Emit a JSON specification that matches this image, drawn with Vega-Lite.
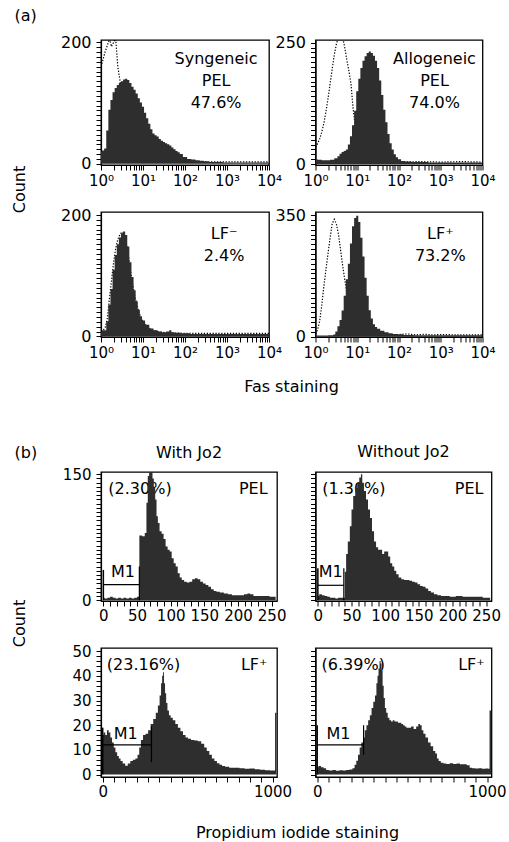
{
"$schema": "https://vega.github.io/schema/vega-lite/v6.json",
"padding": {"left": 10, "top": 6, "right": 5, "bottom": 2},
"background": "white",
"config": {
  "font": "DejaVu Sans",
  "view": {"stroke": "black", "strokeWidth": 1.3},
  "axis": {"grid": false, "domainColor": "black", "domainWidth": 1.2, "tickColor": "black", "tickWidth": 1, "tickSize": 5, "labelColor": "black", "titleColor": "black", "labelFont": "DejaVu Sans", "titleFont": "DejaVu Sans", "labelFontSize": 15, "titleFontSize": 16, "titleFontWeight": "normal", "labelOverlap": false, "labelFlush": false, "labelBound": false},
  "axisX": {"labelPadding": 2},
  "axisY": {"labelPadding": 5},
  "text": {"fontSize": 16, "color": "black"},
  "title": {"font": "DejaVu Sans", "fontSize": 16, "fontWeight": "normal", "color": "black"}
},
"datasets": {
  "notes": [
    {"id": "a1", "t": ["Syngeneic", "PEL", "47.6%"]},
    {"id": "a2", "t": ["Allogeneic", "PEL", "74.0%"]},
    {"id": "a3", "t": ["LF⁻", "2.4%"]},
    {"id": "a4", "t": ["LF⁺", "73.2%"]},
    {"id": "b1p", "t": "(2.30%)"}, {"id": "b1n", "t": "PEL"},
    {"id": "b2p", "t": "(1.30%)"}, {"id": "b2n", "t": "PEL"},
    {"id": "b3p", "t": "(23.16%)"}, {"id": "b3n", "t": "LF⁺"},
    {"id": "b4p", "t": "(6.39%)"}, {"id": "b4n", "t": "LF⁺"},
    {"id": "m", "t": "M1"}
  ],
  "a1": [
    {"s":"f","x":1,"y":20},{"s":"f","x":1.122,"y":22},{"s":"f","x":1.259,"y":25},{"s":"f","x":1.413,"y":55},{"s":"f","x":1.585,"y":89},{"s":"f","x":1.778,"y":105},{"s":"f","x":1.995,"y":118},{"s":"f","x":2.239,"y":125},{"s":"f","x":2.512,"y":130},{"s":"f","x":2.818,"y":133},{"s":"f","x":3.162,"y":136},{"s":"f","x":3.548,"y":139},{"s":"f","x":3.981,"y":140},{"s":"f","x":4.467,"y":138},{"s":"f","x":5.012,"y":133},{"s":"f","x":5.623,"y":127},{"s":"f","x":6.31,"y":122},{"s":"f","x":7.079,"y":116},{"s":"f","x":7.943,"y":108},{"s":"f","x":8.913,"y":101},{"s":"f","x":10,"y":94},{"s":"f","x":11.22,"y":84},{"s":"f","x":12.59,"y":75},{"s":"f","x":14.13,"y":66},{"s":"f","x":15.85,"y":57},{"s":"f","x":17.78,"y":50},{"s":"f","x":19.95,"y":47},{"s":"f","x":22.39,"y":45},{"s":"f","x":25.12,"y":41},{"s":"f","x":28.18,"y":38},{"s":"f","x":31.62,"y":36},{"s":"f","x":35.48,"y":34},{"s":"f","x":39.81,"y":32},{"s":"f","x":44.67,"y":30},{"s":"f","x":50.12,"y":27},{"s":"f","x":56.23,"y":24},{"s":"f","x":63.1,"y":21},{"s":"f","x":70.79,"y":19},{"s":"f","x":79.43,"y":16},{"s":"f","x":100,"y":11},{"s":"f","x":125.9,"y":8},{"s":"f","x":158.5,"y":7},{"s":"f","x":199.5,"y":6},{"s":"f","x":251.2,"y":5},{"s":"f","x":316.2,"y":4},{"s":"f","x":398.1,"y":3},{"s":"f","x":631,"y":3},{"s":"f","x":1000,"y":2},{"s":"f","x":1585,"y":2},{"s":"f","x":2512,"y":2},{"s":"f","x":3981,"y":2},{"s":"f","x":6310,"y":2},{"s":"f","x":10000,"y":2},
    {"s":"c","x":1,"y":160},{"s":"c","x":1.122,"y":172},{"s":"c","x":1.259,"y":185},{"s":"c","x":1.413,"y":195},{"s":"c","x":1.585,"y":206},{"s":"c","x":1.778,"y":193},{"s":"c","x":1.995,"y":200},{"s":"c","x":2.239,"y":206},{"s":"c","x":2.512,"y":160},{"s":"c","x":2.818,"y":138},{"s":"c","x":3.162,"y":112},{"s":"c","x":3.548,"y":88},{"s":"c","x":3.981,"y":68},{"s":"c","x":5.012,"y":44},{"s":"c","x":6.31,"y":29},{"s":"c","x":7.943,"y":19},{"s":"c","x":10,"y":13},{"s":"c","x":15.85,"y":7},{"s":"c","x":25.12,"y":5},{"s":"c","x":39.81,"y":4},{"s":"c","x":100,"y":3},{"s":"c","x":316.2,"y":3},{"s":"c","x":1000,"y":3},{"s":"c","x":3162,"y":3},{"s":"c","x":10000,"y":3}
  ],
  "a2": [
    {"s":"f","x":1,"y":10},{"s":"f","x":1.259,"y":9},{"s":"f","x":1.585,"y":8},{"s":"f","x":1.995,"y":8},{"s":"f","x":2.512,"y":9},{"s":"f","x":3.162,"y":12},{"s":"f","x":3.548,"y":16},{"s":"f","x":3.981,"y":21},{"s":"f","x":4.467,"y":25},{"s":"f","x":5.012,"y":27},{"s":"f","x":5.623,"y":30},{"s":"f","x":6.31,"y":40},{"s":"f","x":7.079,"y":57},{"s":"f","x":7.943,"y":80},{"s":"f","x":8.913,"y":110},{"s":"f","x":10,"y":150},{"s":"f","x":11.22,"y":176},{"s":"f","x":12.59,"y":198},{"s":"f","x":14.13,"y":213},{"s":"f","x":15.85,"y":222},{"s":"f","x":17.78,"y":229},{"s":"f","x":19.95,"y":232},{"s":"f","x":22.39,"y":229},{"s":"f","x":25.12,"y":223},{"s":"f","x":28.18,"y":213},{"s":"f","x":31.62,"y":198},{"s":"f","x":35.48,"y":172},{"s":"f","x":39.81,"y":142},{"s":"f","x":44.67,"y":112},{"s":"f","x":50.12,"y":86},{"s":"f","x":56.23,"y":62},{"s":"f","x":63.1,"y":43},{"s":"f","x":70.79,"y":30},{"s":"f","x":79.43,"y":20},{"s":"f","x":89.13,"y":14},{"s":"f","x":100,"y":10},{"s":"f","x":125.9,"y":6},{"s":"f","x":158.5,"y":5},{"s":"f","x":251.2,"y":4},{"s":"f","x":398.1,"y":4},{"s":"f","x":631,"y":3},{"s":"f","x":1000,"y":3},{"s":"f","x":3162,"y":3},{"s":"f","x":10000,"y":3},
    {"s":"c","x":1,"y":35},{"s":"c","x":1.122,"y":42},{"s":"c","x":1.259,"y":52},{"s":"c","x":1.413,"y":66},{"s":"c","x":1.585,"y":84},{"s":"c","x":1.778,"y":108},{"s":"c","x":1.995,"y":135},{"s":"c","x":2.239,"y":166},{"s":"c","x":2.512,"y":196},{"s":"c","x":2.818,"y":225},{"s":"c","x":3.162,"y":247},{"s":"c","x":3.548,"y":262},{"s":"c","x":3.981,"y":268},{"s":"c","x":4.467,"y":262},{"s":"c","x":5.012,"y":240},{"s":"c","x":5.623,"y":215},{"s":"c","x":6.31,"y":192},{"s":"c","x":7.079,"y":165},{"s":"c","x":7.943,"y":115},{"s":"c","x":8.913,"y":80},{"s":"c","x":10,"y":55},{"s":"c","x":12.59,"y":30},{"s":"c","x":15.85,"y":18},{"s":"c","x":19.95,"y":12},{"s":"c","x":31.62,"y":7},{"s":"c","x":50.12,"y":5},{"s":"c","x":100,"y":4},{"s":"c","x":316.2,"y":5},{"s":"c","x":1000,"y":4},{"s":"c","x":3162,"y":5},{"s":"c","x":10000,"y":4}
  ],
  "a3": [
    {"s":"f","x":1,"y":8},{"s":"f","x":1.122,"y":10},{"s":"f","x":1.259,"y":10},{"s":"f","x":1.413,"y":25},{"s":"f","x":1.585,"y":52},{"s":"f","x":1.778,"y":78},{"s":"f","x":1.995,"y":110},{"s":"f","x":2.239,"y":134},{"s":"f","x":2.512,"y":152},{"s":"f","x":2.818,"y":163},{"s":"f","x":3.162,"y":170},{"s":"f","x":3.548,"y":173},{"s":"f","x":3.981,"y":167},{"s":"f","x":4.467,"y":148},{"s":"f","x":5.012,"y":122},{"s":"f","x":5.623,"y":98},{"s":"f","x":6.31,"y":76},{"s":"f","x":7.079,"y":58},{"s":"f","x":7.943,"y":44},{"s":"f","x":8.913,"y":33},{"s":"f","x":10,"y":26},{"s":"f","x":12.59,"y":19},{"s":"f","x":15.85,"y":13},{"s":"f","x":19.95,"y":10},{"s":"f","x":25.12,"y":8},{"s":"f","x":31.62,"y":7},{"s":"f","x":39.81,"y":8},{"s":"f","x":44.67,"y":10},{"s":"f","x":50.12,"y":7},{"s":"f","x":63.1,"y":6},{"s":"f","x":100,"y":5},{"s":"f","x":158.5,"y":4},{"s":"f","x":316.2,"y":4},{"s":"f","x":1000,"y":4},{"s":"f","x":3162,"y":4},{"s":"f","x":10000,"y":4},
    {"s":"c","x":1,"y":8},{"s":"c","x":1.122,"y":10},{"s":"c","x":1.259,"y":14},{"s":"c","x":1.413,"y":30},{"s":"c","x":1.585,"y":62},{"s":"c","x":1.778,"y":92},{"s":"c","x":1.995,"y":122},{"s":"c","x":2.239,"y":145},{"s":"c","x":2.512,"y":160},{"s":"c","x":2.818,"y":168},{"s":"c","x":3.162,"y":172},{"s":"c","x":3.548,"y":168},{"s":"c","x":3.981,"y":155},{"s":"c","x":4.467,"y":135},{"s":"c","x":5.012,"y":110},{"s":"c","x":5.623,"y":88},{"s":"c","x":6.31,"y":68},{"s":"c","x":7.943,"y":40},{"s":"c","x":10,"y":24},{"s":"c","x":12.59,"y":16},{"s":"c","x":15.85,"y":11},{"s":"c","x":25.12,"y":7},{"s":"c","x":39.81,"y":6},{"s":"c","x":100,"y":5},{"s":"c","x":316.2,"y":5},{"s":"c","x":1000,"y":5},{"s":"c","x":3162,"y":5},{"s":"c","x":10000,"y":5}
  ],
  "a4": [
    {"s":"f","x":1,"y":3},{"s":"f","x":1.585,"y":3},{"s":"f","x":2.512,"y":4},{"s":"f","x":2.818,"y":6},{"s":"f","x":3.162,"y":15},{"s":"f","x":3.548,"y":30},{"s":"f","x":3.981,"y":48},{"s":"f","x":4.467,"y":75},{"s":"f","x":5.012,"y":118},{"s":"f","x":5.623,"y":165},{"s":"f","x":6.31,"y":210},{"s":"f","x":7.079,"y":268},{"s":"f","x":7.943,"y":318},{"s":"f","x":8.913,"y":342},{"s":"f","x":10,"y":348},{"s":"f","x":11.22,"y":330},{"s":"f","x":12.59,"y":285},{"s":"f","x":14.13,"y":231},{"s":"f","x":15.85,"y":170},{"s":"f","x":17.78,"y":118},{"s":"f","x":19.95,"y":76},{"s":"f","x":22.39,"y":52},{"s":"f","x":25.12,"y":36},{"s":"f","x":28.18,"y":28},{"s":"f","x":31.62,"y":23},{"s":"f","x":39.81,"y":17},{"s":"f","x":50.12,"y":13},{"s":"f","x":63.1,"y":10},{"s":"f","x":79.43,"y":8},{"s":"f","x":100,"y":7},{"s":"f","x":158.5,"y":5},{"s":"f","x":316.2,"y":4},{"s":"f","x":1000,"y":4},{"s":"f","x":3162,"y":4},{"s":"f","x":10000,"y":4},
    {"s":"c","x":1,"y":8},{"s":"c","x":1.122,"y":20},{"s":"c","x":1.259,"y":45},{"s":"c","x":1.413,"y":90},{"s":"c","x":1.585,"y":145},{"s":"c","x":1.778,"y":193},{"s":"c","x":1.995,"y":240},{"s":"c","x":2.239,"y":285},{"s":"c","x":2.512,"y":325},{"s":"c","x":2.818,"y":338},{"s":"c","x":3.162,"y":325},{"s":"c","x":3.548,"y":295},{"s":"c","x":3.981,"y":250},{"s":"c","x":4.467,"y":205},{"s":"c","x":5.012,"y":165},{"s":"c","x":5.623,"y":126},{"s":"c","x":6.31,"y":90},{"s":"c","x":7.079,"y":60},{"s":"c","x":7.943,"y":40},{"s":"c","x":10,"y":22},{"s":"c","x":15.85,"y":12},{"s":"c","x":25.12,"y":8},{"s":"c","x":39.81,"y":6},{"s":"c","x":100,"y":6},{"s":"c","x":158.5,"y":8},{"s":"c","x":251.2,"y":5},{"s":"c","x":398.1,"y":7},{"s":"c","x":631,"y":5},{"s":"c","x":1000,"y":6},{"s":"c","x":3162,"y":5},{"s":"c","x":10000,"y":5}
  ],
  "b1": [
    {"x":0,"y":3},{"x":4,"y":2},{"x":8,"y":3},{"x":12,"y":4},{"x":16,"y":3},{"x":20,"y":2},{"x":24,"y":3},{"x":28,"y":2},{"x":32,"y":3},{"x":36,"y":2},{"x":40,"y":3},{"x":44,"y":2},{"x":48,"y":3},{"x":52,"y":4},{"x":55,"y":77},{"x":60,"y":76},{"x":63,"y":80},{"x":65,"y":116},{"x":67,"y":148},{"x":69,"y":160},{"x":72,"y":160},{"x":74,"y":145},{"x":76,"y":134},{"x":78,"y":120},{"x":80,"y":100},{"x":82,"y":92},{"x":85,"y":82},{"x":88,"y":79},{"x":91,"y":73},{"x":94,"y":64},{"x":97,"y":60},{"x":100,"y":58},{"x":103,"y":50},{"x":106,"y":44},{"x":109,"y":40},{"x":112,"y":32},{"x":115,"y":27},{"x":118,"y":24},{"x":122,"y":22},{"x":126,"y":21},{"x":130,"y":22},{"x":134,"y":25},{"x":138,"y":26},{"x":142,"y":25},{"x":146,"y":22},{"x":150,"y":20},{"x":154,"y":18},{"x":158,"y":16},{"x":162,"y":13},{"x":166,"y":11},{"x":170,"y":10},{"x":176,"y":9},{"x":182,"y":8},{"x":188,"y":7},{"x":194,"y":6},{"x":200,"y":6},{"x":206,"y":6},{"x":212,"y":7},{"x":216,"y":8},{"x":220,"y":7},{"x":226,"y":5},{"x":232,"y":5},{"x":238,"y":5},{"x":244,"y":5},{"x":250,"y":4},{"x":256,"y":4}
  ],
  "b2": [
    {"x":0,"y":5},{"x":4,"y":7},{"x":8,"y":6},{"x":12,"y":5},{"x":16,"y":4},{"x":20,"y":3},{"x":24,"y":3},{"x":28,"y":2},{"x":32,"y":3},{"x":36,"y":3},{"x":39,"y":3},{"x":41,"y":34},{"x":43,"y":55},{"x":46,"y":70},{"x":49,"y":88},{"x":51,"y":108},{"x":54,"y":124},{"x":57,"y":134},{"x":60,"y":140},{"x":63,"y":146},{"x":65,"y":150},{"x":67,"y":140},{"x":70,"y":130},{"x":73,"y":120},{"x":76,"y":108},{"x":79,"y":98},{"x":82,"y":82},{"x":85,"y":70},{"x":88,"y":63},{"x":91,"y":60},{"x":94,"y":60},{"x":97,"y":55},{"x":100,"y":58},{"x":103,"y":58},{"x":106,"y":52},{"x":109,"y":44},{"x":112,"y":40},{"x":115,"y":35},{"x":118,"y":31},{"x":122,"y":27},{"x":126,"y":25},{"x":130,"y":24},{"x":134,"y":24},{"x":138,"y":23},{"x":142,"y":22},{"x":146,"y":21},{"x":150,"y":19},{"x":154,"y":17},{"x":158,"y":16},{"x":162,"y":14},{"x":166,"y":11},{"x":170,"y":9},{"x":175,"y":7},{"x":180,"y":6},{"x":186,"y":5},{"x":192,"y":5},{"x":200,"y":4},{"x":210,"y":5},{"x":220,"y":4},{"x":230,"y":4},{"x":240,"y":4},{"x":250,"y":3},{"x":256,"y":3}
  ],
  "b3": [
    {"x":0,"y":16},{"x":10,"y":17},{"x":20,"y":16},{"x":30,"y":18},{"x":40,"y":17},{"x":50,"y":15},{"x":60,"y":13},{"x":70,"y":11},{"x":80,"y":9},{"x":90,"y":7.5},{"x":100,"y":6.5},{"x":110,"y":5.5},{"x":125,"y":4.5},{"x":140,"y":3.6},{"x":155,"y":4.5},{"x":170,"y":5.5},{"x":185,"y":6},{"x":200,"y":6.5},{"x":210,"y":8},{"x":220,"y":11},{"x":230,"y":14},{"x":245,"y":16},{"x":260,"y":16.5},{"x":275,"y":18},{"x":290,"y":20.5},{"x":305,"y":22.5},{"x":320,"y":25},{"x":330,"y":28},{"x":340,"y":32},{"x":347,"y":37},{"x":353,"y":40},{"x":358,"y":41.5},{"x":364,"y":37},{"x":370,"y":33},{"x":377,"y":29},{"x":385,"y":26},{"x":395,"y":24},{"x":405,"y":23},{"x":420,"y":22},{"x":435,"y":20.5},{"x":450,"y":19},{"x":465,"y":17.5},{"x":480,"y":16},{"x":495,"y":15},{"x":510,"y":14.5},{"x":530,"y":14},{"x":550,"y":13.8},{"x":570,"y":13.5},{"x":590,"y":12.5},{"x":605,"y":11},{"x":620,"y":9.5},{"x":635,"y":8},{"x":650,"y":6.5},{"x":665,"y":5.5},{"x":680,"y":4.6},{"x":695,"y":4},{"x":710,"y":3.5},{"x":730,"y":3.2},{"x":760,"y":2.8},{"x":790,"y":2.7},{"x":820,"y":2.5},{"x":850,"y":2.3},{"x":880,"y":2.4},{"x":910,"y":2.1},{"x":940,"y":1.9},{"x":970,"y":1.7},{"x":1000,"y":1.6},{"x":1012,"y":1.6},{"x":1017,"y":25},{"x":1023,"y":25}
  ],
  "b4": [
    {"x":0,"y":3},{"x":15,"y":3.5},{"x":30,"y":3},{"x":45,"y":2.5},{"x":60,"y":1.8},{"x":80,"y":1.6},{"x":100,"y":1.8},{"x":120,"y":1.5},{"x":140,"y":1.7},{"x":160,"y":1.6},{"x":180,"y":1.8},{"x":200,"y":2},{"x":215,"y":2.5},{"x":225,"y":4},{"x":235,"y":5.6},{"x":245,"y":8},{"x":255,"y":11},{"x":265,"y":13},{"x":275,"y":15},{"x":285,"y":18},{"x":295,"y":20},{"x":305,"y":22},{"x":315,"y":24},{"x":325,"y":27},{"x":335,"y":29.5},{"x":345,"y":32},{"x":352,"y":37},{"x":358,"y":40},{"x":364,"y":43},{"x":370,"y":46},{"x":376,"y":45},{"x":382,"y":42},{"x":388,"y":36},{"x":395,"y":31},{"x":402,"y":27},{"x":410,"y":25},{"x":420,"y":23},{"x":430,"y":22},{"x":440,"y":21.5},{"x":450,"y":22},{"x":460,"y":21.5},{"x":470,"y":21.5},{"x":480,"y":21},{"x":490,"y":21},{"x":500,"y":20.5},{"x":510,"y":20},{"x":520,"y":19.5},{"x":530,"y":19},{"x":545,"y":19},{"x":560,"y":19.5},{"x":575,"y":18.5},{"x":590,"y":19.5},{"x":600,"y":20.5},{"x":610,"y":20},{"x":620,"y":18},{"x":630,"y":16.5},{"x":645,"y":15},{"x":660,"y":13},{"x":675,"y":11.5},{"x":690,"y":9.5},{"x":700,"y":8.5},{"x":710,"y":6.5},{"x":720,"y":5.5},{"x":735,"y":4.8},{"x":750,"y":4.5},{"x":770,"y":4.3},{"x":790,"y":4.6},{"x":810,"y":4.3},{"x":830,"y":4.5},{"x":850,"y":4.2},{"x":870,"y":4.2},{"x":890,"y":3.8},{"x":905,"y":2.8},{"x":920,"y":2.5},{"x":940,"y":2.4},{"x":960,"y":2.5},{"x":980,"y":2.3},{"x":1000,"y":2.4},{"x":1012,"y":2.3},{"x":1017,"y":26},{"x":1023,"y":26}
  ]
},
"columns": 2,
"bounds": "flush",
"align": "each",
"spacing": {"row": 47, "column": 38.5},
"concat": [
  {
    "width": 168, "height": 125,
    "resolve": {"axis": {"x": "independent", "y": "independent"}},
    "layer": [
      {"data": {"name": "a1"}, "transform": [{"filter": "datum.s == 'c'"}], "mark": {"type": "line", "clip": true, "color": "black", "strokeDash": [1.3, 1.6], "strokeWidth": 1.2},
       "encoding": {
        "x": {"field": "x", "type": "quantitative", "scale": {"type": "log", "domain": [1, 10000]},
          "axis": {"values": [1,2,3,4,5,6,7,8,9,10,20,30,40,50,60,70,80,90,100,200,300,400,500,600,700,800,900,1000,2000,3000,4000,5000,6000,7000,8000,9000,10000],
            "labelExpr": "datum.value == 1 ? '10⁰' : datum.value == 10 ? '10¹' : datum.value == 100 ? '10²' : datum.value == 1000 ? '10³' : datum.value == 10000 ? '10⁴' : ''",
            "labelFontSize": 15, "labelPadding": 3,
            "title": "(a)", "titleX": -87, "titleY": -149.5, "titleAngle": 0, "titleAlign": "left", "titleBaseline": "middle"}},
        "y": {"field": "y", "type": "quantitative", "scale": {"domain": [-2, 204], "nice": false, "zero": false},
          "axis": {"values": [0,8,16,24,32,40,48,56,64,72,80,88,96,104,112,120,128,136,144,152,160,168,176,184,192,200],
            "labelExpr": "datum.value == 0 || datum.value == 200 ? datum.label : ''", "labelFontSize": 16,
            "title": "Count", "titleX": -82, "titleY": 149, "titleAngle": -90, "titleAlign": "center", "titleBaseline": "middle"}}
       }},
      {"data": {"name": "a1"}, "transform": [{"filter": "datum.s == 'f'"}], "mark": {"type": "area", "clip": true, "color": "#2e2e2e", "interpolate": "step"},
       "encoding": {"x": {"field": "x", "type": "quantitative", "axis": null}, "y": {"field": "y", "type": "quantitative", "axis": null}}},
      {"data": {"name": "notes"}, "transform": [{"filter": "datum.id == 'a1'"}], "mark": {"type": "text", "lineHeight": 22, "align": "center", "baseline": "middle"},
       "encoding": {"x": {"datum": 550, "axis": null}, "y": {"datum": 172.7, "axis": null}, "text": {"field": "t"}}}
    ]
  },
  {
    "width": 167, "height": 125,
    "resolve": {"axis": {"x": "independent", "y": "independent"}},
    "layer": [
      {"data": {"name": "a2"}, "transform": [{"filter": "datum.s == 'c'"}], "mark": {"type": "line", "clip": true, "color": "black", "strokeDash": [1.3, 1.6], "strokeWidth": 1.2},
       "encoding": {
        "x": {"field": "x", "type": "quantitative", "scale": {"type": "log", "domain": [1, 10000]},
          "axis": {"values": [1,2,3,4,5,6,7,8,9,10,20,30,40,50,60,70,80,90,100,200,300,400,500,600,700,800,900,1000,2000,3000,4000,5000,6000,7000,8000,9000,10000],
            "labelExpr": "datum.value == 1 ? '10⁰' : datum.value == 10 ? '10¹' : datum.value == 100 ? '10²' : datum.value == 1000 ? '10³' : datum.value == 10000 ? '10⁴' : ''",
            "labelFontSize": 15, "labelPadding": 3, "title": null}},
        "y": {"field": "y", "type": "quantitative", "scale": {"domain": [-2, 255.6], "nice": false, "zero": false},
          "axis": {"values": [0,10,20,30,40,50,60,70,80,90,100,110,120,130,140,150,160,170,180,190,200,210,220,230,240,250],
            "labelExpr": "datum.value == 0 || datum.value == 250 ? datum.label : ''", "labelFontSize": 16, "title": null}}
       }},
      {"data": {"name": "a2"}, "transform": [{"filter": "datum.s == 'f'"}], "mark": {"type": "area", "clip": true, "color": "#2e2e2e", "interpolate": "step"},
       "encoding": {"x": {"field": "x", "type": "quantitative", "axis": null}, "y": {"field": "y", "type": "quantitative", "axis": null}}},
      {"data": {"name": "notes"}, "transform": [{"filter": "datum.id == 'a2'"}], "mark": {"type": "text", "lineHeight": 22, "align": "center", "baseline": "middle"},
       "encoding": {"x": {"datum": 708, "axis": null}, "y": {"datum": 216.4, "axis": null}, "text": {"field": "t"}}}
    ]
  },
  {
    "width": 168, "height": 125,
    "resolve": {"axis": {"x": "independent", "y": "independent"}},
    "layer": [
      {"data": {"name": "a3"}, "transform": [{"filter": "datum.s == 'c'"}], "mark": {"type": "line", "clip": true, "color": "black", "strokeDash": [1.3, 1.6], "strokeWidth": 1.2},
       "encoding": {
        "x": {"field": "x", "type": "quantitative", "scale": {"type": "log", "domain": [1, 10000]},
          "axis": {"values": [1,2,3,4,5,6,7,8,9,10,20,30,40,50,60,70,80,90,100,200,300,400,500,600,700,800,900,1000,2000,3000,4000,5000,6000,7000,8000,9000,10000],
            "labelExpr": "datum.value == 1 ? '10⁰' : datum.value == 10 ? '10¹' : datum.value == 100 ? '10²' : datum.value == 1000 ? '10³' : datum.value == 10000 ? '10⁴' : ''",
            "labelFontSize": 15, "labelPadding": 3,
            "title": "Fas staining", "titleX": 190, "titleY": 49, "titleAngle": 0, "titleAlign": "center", "titleBaseline": "middle"}},
        "y": {"field": "y", "type": "quantitative", "scale": {"domain": [-1, 205], "nice": false, "zero": false},
          "axis": {"values": [0,8,16,24,32,40,48,56,64,72,80,88,96,104,112,120,128,136,144,152,160,168,176,184,192,200],
            "labelExpr": "datum.value == 0 || datum.value == 200 ? datum.label : ''", "labelFontSize": 16, "title": null}}
       }},
      {"data": {"name": "a3"}, "transform": [{"filter": "datum.s == 'f'"}], "mark": {"type": "area", "clip": true, "color": "#2e2e2e", "interpolate": "step"},
       "encoding": {"x": {"field": "x", "type": "quantitative", "axis": null}, "y": {"field": "y", "type": "quantitative", "axis": null}}},
      {"data": {"name": "notes"}, "transform": [{"filter": "datum.id == 'a3'"}], "mark": {"type": "text", "lineHeight": 22, "align": "center", "baseline": "middle"},
       "encoding": {"x": {"datum": 851, "axis": null}, "y": {"datum": 168.3, "axis": null}, "text": {"field": "t"}}}
    ]
  },
  {
    "width": 167, "height": 125,
    "resolve": {"axis": {"x": "independent", "y": "independent"}},
    "layer": [
      {"data": {"name": "a4"}, "transform": [{"filter": "datum.s == 'c'"}], "mark": {"type": "line", "clip": true, "color": "black", "strokeDash": [1.3, 1.6], "strokeWidth": 1.2},
       "encoding": {
        "x": {"field": "x", "type": "quantitative", "scale": {"type": "log", "domain": [1, 10000]},
          "axis": {"values": [1,2,3,4,5,6,7,8,9,10,20,30,40,50,60,70,80,90,100,200,300,400,500,600,700,800,900,1000,2000,3000,4000,5000,6000,7000,8000,9000,10000],
            "labelExpr": "datum.value == 1 ? '10⁰' : datum.value == 10 ? '10¹' : datum.value == 100 ? '10²' : datum.value == 1000 ? '10³' : datum.value == 10000 ? '10⁴' : ''",
            "labelFontSize": 15, "labelPadding": 3,
            "title": "(b)", "titleX": -301.5, "titleY": 115.7, "titleAngle": 0, "titleAlign": "left", "titleBaseline": "middle"}},
        "y": {"field": "y", "type": "quantitative", "scale": {"domain": [-1, 359], "nice": false, "zero": false},
          "axis": {"values": [0,14,28,42,56,70,84,98,112,126,140,154,168,182,196,210,224,238,252,266,280,294,308,322,336,350],
            "labelExpr": "datum.value == 0 || datum.value == 350 ? datum.label : ''", "labelFontSize": 16, "title": null}}
       }},
      {"data": {"name": "a4"}, "transform": [{"filter": "datum.s == 'f'"}], "mark": {"type": "area", "clip": true, "color": "#2e2e2e", "interpolate": "step"},
       "encoding": {"x": {"field": "x", "type": "quantitative", "axis": null}, "y": {"field": "y", "type": "quantitative", "axis": null}}},
      {"data": {"name": "notes"}, "transform": [{"filter": "datum.id == 'a4'"}], "mark": {"type": "text", "lineHeight": 22, "align": "center", "baseline": "middle"},
       "encoding": {"x": {"datum": 977, "axis": null}, "y": {"datum": 294.8, "axis": null}, "text": {"field": "t"}}}
    ]
  },
  {"width": 10, "height": 41, "data": {"name": "notes"}, "transform": [{"filter": "false"}], "mark": {"type": "point", "opacity": 0}, "encoding": {}, "view": {"stroke": null}},
  {"width": 10, "height": 41, "data": {"name": "notes"}, "transform": [{"filter": "false"}], "mark": {"type": "point", "opacity": 0}, "encoding": {}, "view": {"stroke": null}},
  {
    "width": 176, "height": 129,
    "title": {"text": "With Jo2", "offset": 6},
    "resolve": {"axis": {"x": "independent", "y": "independent"}},
    "layer": [
      {"data": {"name": "notes"}, "transform": [{"filter": "datum.id == 'b1p'"}], "mark": {"type": "text", "align": "left", "baseline": "middle"},
       "encoding": {"x": {"datum": 7.4, "axis": null}, "y": {"datum": 132, "axis": null}, "text": {"field": "t"}}},
      {"data": {"name": "notes"}, "transform": [{"filter": "datum.id == 'b1n'"}], "mark": {"type": "text", "align": "right", "baseline": "middle"},
       "encoding": {"x": {"datum": 244, "axis": null}, "y": {"datum": 132, "axis": null}, "text": {"field": "t"}}},
      {"data": {"name": "b1"}, "mark": {"type": "area", "clip": true, "color": "#2e2e2e", "interpolate": "step"},
       "encoding": {
        "x": {"field": "x", "type": "quantitative", "scale": {"domain": [-3.5, 258], "nice": false, "zero": false},
          "axis": {"values": [0,10,20,30,40,50,60,70,80,90,100,110,120,130,140,150,160,170,180,190,200,210,220,230,240,250],
            "labelExpr": "datum.value % 50 == 0 ? datum.label : ''", "format": "d", "title": null}},
        "y": {"field": "y", "type": "quantitative", "scale": {"domain": [-1, 152.7], "nice": false, "zero": false},
          "axis": {"values": [0,5,10,15,20,25,30,35,40,45,50,55,60,65,70,75,80,85,90,95,100,105,110,115,120,125,130,135,140,145,150],
            "labelExpr": "datum.value == 0 || datum.value == 150 ? datum.label : ''",
            "title": "Count", "titleX": -82, "titleY": 151, "titleAngle": -90, "titleAlign": "center", "titleBaseline": "middle"}}}},
      {"data": {"name": "notes"}, "transform": [{"filter": "datum.id == 'm'"}], "mark": {"type": "rule", "color": "black", "strokeWidth": 1.2},
       "encoding": {"x": {"datum": 0, "axis": null}, "x2": {"datum": 53.5}, "y": {"datum": 18.5, "axis": null}}},
      {"data": {"name": "notes"}, "transform": [{"filter": "datum.id == 'm'"}], "mark": {"type": "rule", "color": "black", "strokeWidth": 1.5},
       "encoding": {"x": {"datum": 0, "axis": null}, "y": {"datum": 0, "axis": null}, "y2": {"datum": 36}}},
      {"data": {"name": "notes"}, "transform": [{"filter": "datum.id == 'm'"}], "mark": {"type": "rule", "color": "black", "strokeWidth": 1.2},
       "encoding": {"x": {"datum": 53.5, "axis": null}, "y": {"datum": 0, "axis": null}, "y2": {"datum": 40}}},
      {"data": {"name": "notes"}, "transform": [{"filter": "datum.id == 'm'"}], "mark": {"type": "text", "align": "center", "baseline": "middle"},
       "encoding": {"x": {"datum": 29, "axis": null}, "y": {"datum": 34, "axis": null}, "text": {"field": "t"}}}
    ]
  },
  {
    "width": 176, "height": 129,
    "title": {"text": "Without Jo2", "offset": 12},
    "resolve": {"axis": {"x": "independent", "y": "independent"}},
    "layer": [
      {"data": {"name": "notes"}, "transform": [{"filter": "datum.id == 'b2p'"}], "mark": {"type": "text", "align": "left", "baseline": "middle"},
       "encoding": {"x": {"datum": 6.5, "axis": null}, "y": {"datum": 132, "axis": null}, "text": {"field": "t"}}},
      {"data": {"name": "notes"}, "transform": [{"filter": "datum.id == 'b2n'"}], "mark": {"type": "text", "align": "right", "baseline": "middle"},
       "encoding": {"x": {"datum": 246, "axis": null}, "y": {"datum": 132, "axis": null}, "text": {"field": "t"}}},
      {"data": {"name": "b2"}, "mark": {"type": "area", "clip": true, "color": "#2e2e2e", "interpolate": "step"},
       "encoding": {
        "x": {"field": "x", "type": "quantitative", "scale": {"domain": [-3.5, 258], "nice": false, "zero": false},
          "axis": {"values": [0,10,20,30,40,50,60,70,80,90,100,110,120,130,140,150,160,170,180,190,200,210,220,230,240,250],
            "labelExpr": "datum.value % 50 == 0 ? datum.label : ''", "format": "d", "title": null}},
        "y": {"field": "y", "type": "quantitative", "scale": {"domain": [-1, 152.7], "nice": false, "zero": false},
          "axis": {"values": [0,5,10,15,20,25,30,35,40,45,50,55,60,65,70,75,80,85,90,95,100,105,110,115,120,125,130,135,140,145,150],
            "labels": false, "title": null}}}},
      {"data": {"name": "notes"}, "transform": [{"filter": "datum.id == 'm'"}], "mark": {"type": "rule", "color": "black", "strokeWidth": 1.2},
       "encoding": {"x": {"datum": 0, "axis": null}, "x2": {"datum": 38.6}, "y": {"datum": 17.7, "axis": null}}},
      {"data": {"name": "notes"}, "transform": [{"filter": "datum.id == 'm'"}], "mark": {"type": "rule", "color": "black", "strokeWidth": 1.5},
       "encoding": {"x": {"datum": 0, "axis": null}, "y": {"datum": 0, "axis": null}, "y2": {"datum": 38}}},
      {"data": {"name": "notes"}, "transform": [{"filter": "datum.id == 'm'"}], "mark": {"type": "rule", "color": "black", "strokeWidth": 1.2},
       "encoding": {"x": {"datum": 38.6, "axis": null}, "y": {"datum": 0, "axis": null}, "y2": {"datum": 38}}},
      {"data": {"name": "notes"}, "transform": [{"filter": "datum.id == 'm'"}], "mark": {"type": "text", "align": "center", "baseline": "middle"},
       "encoding": {"x": {"datum": 19, "axis": null}, "y": {"datum": 34, "axis": null}, "text": {"field": "t"}}}
    ]
  },
  {
    "width": 176, "height": 129,
    "resolve": {"axis": {"x": "independent", "y": "independent"}},
    "layer": [
      {"data": {"name": "notes"}, "transform": [{"filter": "datum.id == 'b3p'"}], "mark": {"type": "text", "align": "left", "baseline": "middle"},
       "encoding": {"x": {"datum": 24, "axis": null}, "y": {"datum": 44.3, "axis": null}, "text": {"field": "t"}}},
      {"data": {"name": "notes"}, "transform": [{"filter": "datum.id == 'b3n'"}], "mark": {"type": "text", "align": "right", "baseline": "middle"},
       "encoding": {"x": {"datum": 970, "axis": null}, "y": {"datum": 44.3, "axis": null}, "text": {"field": "t"}}},
      {"data": {"name": "b3"}, "mark": {"type": "area", "clip": true, "color": "#2e2e2e", "interpolate": "step"},
       "encoding": {
        "x": {"field": "x", "type": "quantitative", "scale": {"domain": [-10, 1026], "nice": false, "zero": false},
          "axis": {"values": [0,66.667,133.333,200,266.667,333.333,400,466.667,533.333,600,666.667,733.333,800,866.667,933.333,1000],
            "labelExpr": "datum.value == 0 || datum.value == 1000 ? datum.label : ''", "format": "d",
            "title": "Propidium iodide staining", "titleX": 196, "titleY": 55, "titleAngle": 0, "titleAlign": "center", "titleBaseline": "middle"}},
        "y": {"field": "y", "type": "quantitative", "scale": {"domain": [-1, 51.3], "nice": false, "zero": false},
          "axis": {"values": [0,2,4,6,8,10,12,14,16,18,20,22,24,26,28,30,32,34,36,38,40,42,44,46,48,50],
            "labelExpr": "datum.value % 10 == 0 ? datum.label : ''", "title": null}}}},
      {"data": {"name": "notes"}, "transform": [{"filter": "datum.id == 'm'"}], "mark": {"type": "rule", "color": "black", "strokeWidth": 1.2},
       "encoding": {"x": {"datum": 0, "axis": null}, "x2": {"datum": 287}, "y": {"datum": 12, "axis": null}}},
      {"data": {"name": "notes"}, "transform": [{"filter": "datum.id == 'm'"}], "mark": {"type": "rule", "color": "black", "strokeWidth": 1.5},
       "encoding": {"x": {"datum": 0, "axis": null}, "y": {"datum": 0, "axis": null}, "y2": {"datum": 19}}},
      {"data": {"name": "notes"}, "transform": [{"filter": "datum.id == 'm'"}], "mark": {"type": "rule", "color": "black", "strokeWidth": 1.2},
       "encoding": {"x": {"datum": 287, "axis": null}, "y": {"datum": 5, "axis": null}, "y2": {"datum": 19.5}}},
      {"data": {"name": "notes"}, "transform": [{"filter": "datum.id == 'm'"}], "mark": {"type": "text", "align": "center", "baseline": "middle"},
       "encoding": {"x": {"datum": 135, "axis": null}, "y": {"datum": 16.3, "axis": null}, "text": {"field": "t"}}}
    ]
  },
  {
    "width": 176, "height": 129,
    "resolve": {"axis": {"x": "independent", "y": "independent"}},
    "layer": [
      {"data": {"name": "notes"}, "transform": [{"filter": "datum.id == 'b4p'"}], "mark": {"type": "text", "align": "left", "baseline": "middle"},
       "encoding": {"x": {"datum": 26, "axis": null}, "y": {"datum": 44.3, "axis": null}, "text": {"field": "t"}}},
      {"data": {"name": "notes"}, "transform": [{"filter": "datum.id == 'b4n'"}], "mark": {"type": "text", "align": "right", "baseline": "middle"},
       "encoding": {"x": {"datum": 986, "axis": null}, "y": {"datum": 44.3, "axis": null}, "text": {"field": "t"}}},
      {"data": {"name": "b4"}, "mark": {"type": "area", "clip": true, "color": "#2e2e2e", "interpolate": "step"},
       "encoding": {
        "x": {"field": "x", "type": "quantitative", "scale": {"domain": [-10, 1026], "nice": false, "zero": false},
          "axis": {"values": [0,66.667,133.333,200,266.667,333.333,400,466.667,533.333,600,666.667,733.333,800,866.667,933.333,1000],
            "labelExpr": "datum.value == 0 || datum.value == 1000 ? datum.label : ''", "format": "d", "title": null}},
        "y": {"field": "y", "type": "quantitative", "scale": {"domain": [-1, 51.3], "nice": false, "zero": false},
          "axis": {"values": [0,2,4,6,8,10,12,14,16,18,20,22,24,26,28,30,32,34,36,38,40,42,44,46,48,50],
            "labels": false, "title": null}}}},
      {"data": {"name": "notes"}, "transform": [{"filter": "datum.id == 'm'"}], "mark": {"type": "rule", "color": "black", "strokeWidth": 1.2},
       "encoding": {"x": {"datum": 0, "axis": null}, "x2": {"datum": 273}, "y": {"datum": 12, "axis": null}}},
      {"data": {"name": "notes"}, "transform": [{"filter": "datum.id == 'm'"}], "mark": {"type": "rule", "color": "black", "strokeWidth": 1.5},
       "encoding": {"x": {"datum": 0, "axis": null}, "y": {"datum": 0, "axis": null}, "y2": {"datum": 20}}},
      {"data": {"name": "notes"}, "transform": [{"filter": "datum.id == 'm'"}], "mark": {"type": "rule", "color": "black", "strokeWidth": 1.2},
       "encoding": {"x": {"datum": 273, "axis": null}, "y": {"datum": 8, "axis": null}, "y2": {"datum": 20}}},
      {"data": {"name": "notes"}, "transform": [{"filter": "datum.id == 'm'"}], "mark": {"type": "text", "align": "center", "baseline": "middle"},
       "encoding": {"x": {"datum": 125, "axis": null}, "y": {"datum": 16.3, "axis": null}, "text": {"field": "t"}}}
    ]
  }
]
}
